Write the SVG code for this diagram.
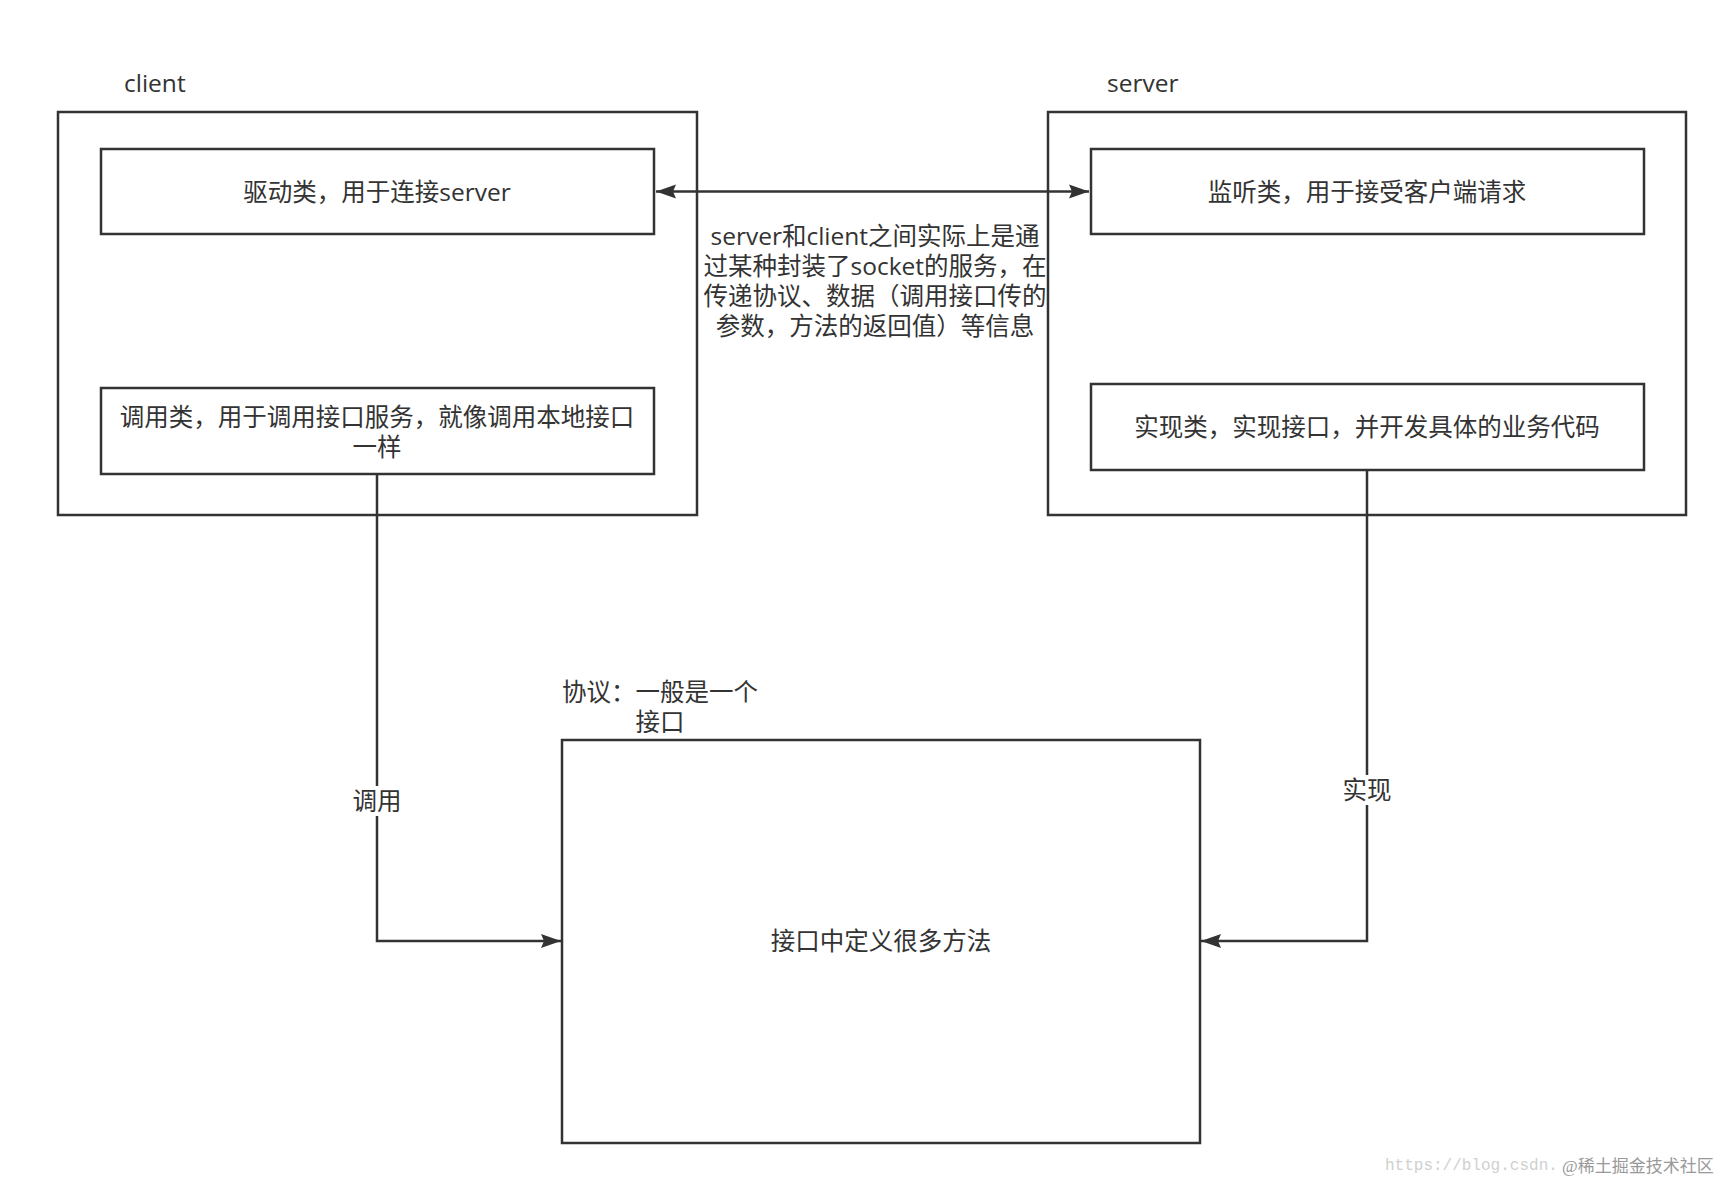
<svg xmlns="http://www.w3.org/2000/svg" width="1726" height="1182" viewBox="0 0 1726 1182">
<defs>
<style>
.box{fill:#fff;stroke:#333;stroke-width:2.5}
.t{font-family:"Open Sans","Noto Sans CJK SC",sans-serif;font-size:24.5px;fill:#333}
.c{text-anchor:middle;dominant-baseline:central}
.edge{fill:none;stroke:#333;stroke-width:2.5}
.lbl{fill:#fff}
</style>
<marker id="arr" markerUnits="userSpaceOnUse" markerWidth="22" markerHeight="16" viewBox="0 0 22 16" refX="20" refY="8" orient="auto-start-reverse">
<path d="M0,1 L20,8 L0,15 L3,8 Z" fill="#333"/>
</marker>
</defs>
<rect width="1726" height="1182" fill="#fff"/>

<g id="client">
<text class="t" x="124" y="92">client</text>
<rect class="box" x="58" y="112" width="639" height="403"/>
</g>
<g id="client-driver">
<rect class="box" x="101" y="149" width="553" height="85"/>
<text class="t c" x="377" y="191">驱动类，用于连接server</text>
</g>
<g id="client-caller">
<rect class="box" x="101" y="388" width="553" height="86"/>
<text class="t c" x="377" y="416">调用类，用于调用接口服务，就像调用本地接口</text>
<text class="t c" x="377" y="446">一样</text>
</g>

<g id="server">
<text class="t" x="1107" y="92">server</text>
<rect class="box" x="1048" y="112" width="638" height="403"/>
</g>
<g id="server-listener">
<rect class="box" x="1091" y="149" width="553" height="85"/>
<text class="t c" x="1367" y="191">监听类，用于接受客户端请求</text>
</g>
<g id="server-impl">
<rect class="box" x="1091" y="384" width="553" height="86"/>
<text class="t c" x="1367" y="426">实现类，实现接口，并开发具体的业务代码</text>
</g>

<g id="protocol">
<text class="t c" x="660" y="691">协议：一般是一个</text>
<text class="t c" x="660" y="721">接口</text>
<rect class="box" x="562" y="740" width="638" height="403"/>
<text class="t c" x="881" y="940">接口中定义很多方法</text>
</g>

<g id="connectors">
<path class="edge" d="M656,191.5 H1089" marker-start="url(#arr)" marker-end="url(#arr)"/>
<path class="edge" d="M377,474 V941 H561" marker-end="url(#arr)"/>
<path class="edge" d="M1367,470 V941 H1201" marker-end="url(#arr)"/>
<rect class="lbl" x="351" y="786" width="52" height="30"/>
<text class="t c" x="377" y="800">调用</text>
<rect class="lbl" x="1341" y="775" width="52" height="30"/>
<text class="t c" x="1367" y="789">实现</text>
<text class="t c" x="875" y="235">server和client之间实际上是通</text>
<text class="t c" x="875" y="265">过某种封装了socket的服务，在</text>
<text class="t c" x="875" y="295">传递协议、数据（调用接口传的</text>
<text class="t c" x="875" y="325">参数，方法的返回值）等信息</text>
</g>

<g id="watermark">
<text x="1385" y="1170" font-family="Liberation Mono, monospace" font-size="16" fill="#d0d0d0">https://blog.csdn.</text>
<text x="1562" y="1172" font-family="Liberation Serif, Noto Sans CJK SC, serif" font-size="17" fill="#999">@稀土掘金技术社区</text>
</g>
</svg>
